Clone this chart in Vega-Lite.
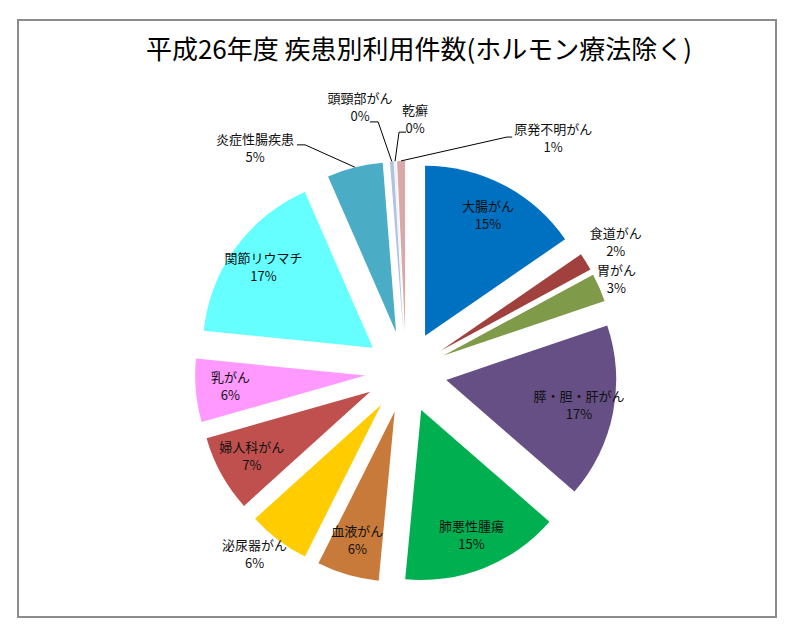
{
  "$schema": "https://vega.github.io/schema/vega-lite/v6.json",
  "autosize": "none",
  "padding": {"left": 18, "top": 20, "right": 24, "bottom": 24},
  "width": 758,
  "height": 597,
  "background": "white",
  "config": {
    "view": {"stroke": "#8c8c8c", "strokeWidth": 2, "fill": "white"},
    "text": {"font": "Noto Sans CJK JP"}
  },
  "title": {
    "text": "平成26年度 疾患別利用件数(ホルモン療法除く)",
    "font": "Noto Sans CJK JP",
    "fontSize": 26,
    "fontWeight": "normal",
    "color": "#000000",
    "anchor": "middle",
    "frame": "group",
    "offset": -44,
    "dx": 22
  },
  "data": {
    "values": [
      {"name": "大腸がん", "value": 15.4},
      {"name": "食道がん", "value": 1.7},
      {"name": "胃がん", "value": 2.7},
      {"name": "膵・胆・肝がん", "value": 16.6},
      {"name": "肺悪性腫瘍", "value": 15.1},
      {"name": "血液がん", "value": 5.9},
      {"name": "泌尿器がん", "value": 5.9},
      {"name": "婦人科がん", "value": 7.3},
      {"name": "乳がん", "value": 6.0},
      {"name": "関節リウマチ", "value": 16.85},
      {"name": "炎症性腸疾患", "value": 5.3},
      {"name": "頭頸部がん", "value": 0.35},
      {"name": "乾癬", "value": 0.15},
      {"name": "原発不明がん", "value": 0.75}
    ]
  },
  "transform": [
    {"window": [{"op": "sum", "field": "value", "as": "c1"}], "frame": [null, 0]},
    {"calculate": "datum.c1 - datum.value", "as": "c0"},
    {"calculate": "PI * (datum.c0 + datum.c1) / 100", "as": "am"},
    {"calculate": "sin(datum.am)", "as": "ex"},
    {"calculate": "cos(datum.am)", "as": "ey"},
    {"calculate": "[datum.name, format(datum.value, '.0f') + '%']", "as": "lbl"}
  ],
  "layer": [
    {
      "mark": {"type": "arc", "radius": 170},
      "encoding": {
        "theta": {"field": "c0", "type": "quantitative", "scale": {"domain": [0, 100], "range": [0, 6.283185307]}},
        "theta2": {"field": "c1"},
        "x": {"field": "ex", "type": "quantitative", "scale": {"domain": [-1, 1], "range": [347, 429], "nice": false, "zero": false}, "axis": null},
        "y": {"field": "ey", "type": "quantitative", "scale": {"domain": [-1, 1], "range": [393, 311], "nice": false, "zero": false}, "axis": null},
        "color": {
          "field": "name", "type": "nominal", "legend": null,
          "scale": {
            "domain": ["大腸がん", "食道がん", "胃がん", "膵・胆・肝がん", "肺悪性腫瘍", "血液がん", "泌尿器がん", "婦人科がん", "乳がん", "関節リウマチ", "炎症性腸疾患", "頭頸部がん", "乾癬", "原発不明がん"],
            "range": ["#0070C0", "#A0413E", "#7F9A48", "#654F84", "#00B050", "#C87A3A", "#FFCC00", "#C0504D", "#FF99FF", "#66FFFF", "#4BACC6", "#B0C2E0", "#EEEEF4", "#D9A8A8"]
          }
        }
      }
    },
    {
      "transform": [
        {"filter": {"field": "name", "oneOf": ["大腸がん", "膵・胆・肝がん", "肺悪性腫瘍", "血液がん", "婦人科がん", "乳がん", "関節リウマチ"]}},
        {"calculate": "datum.ex * 4.3", "as": "lx"},
        {"calculate": "datum.ey * 4.3", "as": "ly"}
      ],
      "mark": {"type": "text", "fontSize": 13, "lineHeight": 18, "align": "center", "baseline": "middle", "dy": -9, "color": "#111111"},
      "encoding": {
        "x": {"field": "lx", "type": "quantitative", "scale": {"domain": [-1, 1], "range": [347, 429], "nice": false, "zero": false}, "axis": null},
        "y": {"field": "ly", "type": "quantitative", "scale": {"domain": [-1, 1], "range": [393, 311], "nice": false, "zero": false}, "axis": null},
        "text": {"field": "lbl"}
      }
    },
    {
      "transform": [
        {"filter": {"field": "name", "equal": "食道がん"}},
        {"calculate": "datum.ex * 6.0", "as": "lx"},
        {"calculate": "datum.ey * 6.0", "as": "ly"}
      ],
      "mark": {"type": "text", "fontSize": 13, "lineHeight": 18, "align": "center", "baseline": "middle", "dy": -9, "color": "#111111"},
      "encoding": {
        "x": {"field": "lx", "type": "quantitative", "scale": {"domain": [-1, 1], "range": [347, 429], "nice": false, "zero": false}, "axis": null},
        "y": {"field": "ly", "type": "quantitative", "scale": {"domain": [-1, 1], "range": [393, 311], "nice": false, "zero": false}, "axis": null},
        "text": {"field": "lbl"}
      }
    },
    {
      "transform": [
        {"filter": {"field": "name", "equal": "泌尿器がん"}},
        {"calculate": "datum.ex * 6.1", "as": "lx"},
        {"calculate": "datum.ey * 5.6", "as": "ly"}
      ],
      "mark": {"type": "text", "fontSize": 13, "lineHeight": 18, "align": "center", "baseline": "middle", "dy": -9, "color": "#111111"},
      "encoding": {
        "x": {"field": "lx", "type": "quantitative", "scale": {"domain": [-1, 1], "range": [347, 429], "nice": false, "zero": false}, "axis": null},
        "y": {"field": "ly", "type": "quantitative", "scale": {"domain": [-1, 1], "range": [393, 311], "nice": false, "zero": false}, "axis": null},
        "text": {"field": "lbl"}
      }
    },
    {
      "transform": [
        {"filter": {"field": "name", "equal": "胃がん"}},
        {"calculate": "datum.ex * 5.6", "as": "lx"},
        {"calculate": "datum.ey * 5.6", "as": "ly"}
      ],
      "mark": {"type": "text", "fontSize": 13, "lineHeight": 18, "align": "center", "baseline": "middle", "dy": -9, "color": "#111111"},
      "encoding": {
        "x": {"field": "lx", "type": "quantitative", "scale": {"domain": [-1, 1], "range": [347, 429], "nice": false, "zero": false}, "axis": null},
        "y": {"field": "ly", "type": "quantitative", "scale": {"domain": [-1, 1], "range": [393, 311], "nice": false, "zero": false}, "axis": null},
        "text": {"field": "lbl"}
      }
    },
    {
      "transform": [
        {"filter": {"field": "name", "equal": "炎症性腸疾患"}},
        {"calculate": "datum.ex * 5.15", "as": "sx"},
        {"calculate": "datum.ey * 5.15", "as": "sy"}
      ],
      "layer": [
        {"mark": {"type": "rule", "color": "#000000", "strokeWidth": 1},
         "encoding": {"x": {"field": "sx", "type": "quantitative"}, "y": {"field": "sy", "type": "quantitative"}, "x2": {"datum": -2.46}, "y2": {"datum": 5.54}}},
        {"mark": {"type": "rule", "color": "#000000", "strokeWidth": 1},
         "encoding": {"x": {"datum": -2.66}, "x2": {"datum": -2.46}, "y": {"datum": 5.54}}},
        {"mark": {"type": "text", "fontSize": 13, "lineHeight": 18, "align": "center", "baseline": "middle", "dy": -9, "color": "#111111"},
         "encoding": {"x": {"datum": -3.68}, "y": {"datum": 5.43}, "text": {"field": "lbl"}}}
      ]
    },
    {
      "transform": [
        {"filter": {"field": "name", "equal": "頭頸部がん"}},
        {"calculate": "datum.ex * 5.15", "as": "sx"},
        {"calculate": "datum.ey * 5.15", "as": "sy"}
      ],
      "layer": [
        {"mark": {"type": "rule", "color": "#000000", "strokeWidth": 1},
         "encoding": {"x": {"field": "sx", "type": "quantitative"}, "y": {"field": "sy", "type": "quantitative"}, "x2": {"datum": -0.68}, "y2": {"datum": 6.1}}},
        {"mark": {"type": "rule", "color": "#000000", "strokeWidth": 1},
         "encoding": {"x": {"datum": -0.88}, "x2": {"datum": -0.68}, "y": {"datum": 6.1}}},
        {"mark": {"type": "text", "fontSize": 13, "lineHeight": 18, "align": "center", "baseline": "middle", "dy": -9, "color": "#111111"},
         "encoding": {"x": {"datum": -1.12}, "y": {"datum": 6.43}, "text": {"field": "lbl"}}}
      ]
    },
    {
      "transform": [
        {"filter": {"field": "name", "equal": "乾癬"}},
        {"calculate": "datum.ex * 5.15", "as": "sx"},
        {"calculate": "datum.ey * 5.15", "as": "sy"}
      ],
      "layer": [
        {"mark": {"type": "rule", "color": "#000000", "strokeWidth": 1},
         "encoding": {"x": {"field": "sx", "type": "quantitative"}, "y": {"field": "sy", "type": "quantitative"}, "x2": {"datum": -0.17}, "y2": {"datum": 5.85}}},
        {"mark": {"type": "rule", "color": "#000000", "strokeWidth": 1},
         "encoding": {"x": {"datum": -0.17}, "x2": {"datum": 0.0}, "y": {"datum": 5.85}}},
        {"mark": {"type": "text", "fontSize": 13, "lineHeight": 18, "align": "center", "baseline": "middle", "dy": -9, "color": "#111111"},
         "encoding": {"x": {"datum": 0.22}, "y": {"datum": 6.15}, "text": {"field": "lbl"}}}
      ]
    },
    {
      "transform": [
        {"filter": {"field": "name", "equal": "原発不明がん"}},
        {"calculate": "datum.ex * 5.15", "as": "sx"},
        {"calculate": "datum.ey * 5.15", "as": "sy"}
      ],
      "layer": [
        {"mark": {"type": "rule", "color": "#000000", "strokeWidth": 1},
         "encoding": {"x": {"field": "sx", "type": "quantitative"}, "y": {"field": "sy", "type": "quantitative"}, "x2": {"datum": 2.46}, "y2": {"datum": 5.73}}},
        {"mark": {"type": "rule", "color": "#000000", "strokeWidth": 1},
         "encoding": {"x": {"datum": 2.46}, "x2": {"datum": 2.59}, "y": {"datum": 5.73}}},
        {"mark": {"type": "text", "fontSize": 13, "lineHeight": 18, "align": "center", "baseline": "middle", "dy": -9, "color": "#111111"},
         "encoding": {"x": {"datum": 3.59}, "y": {"datum": 5.68}, "text": {"field": "lbl"}}}
      ]
    }
  ]
}
